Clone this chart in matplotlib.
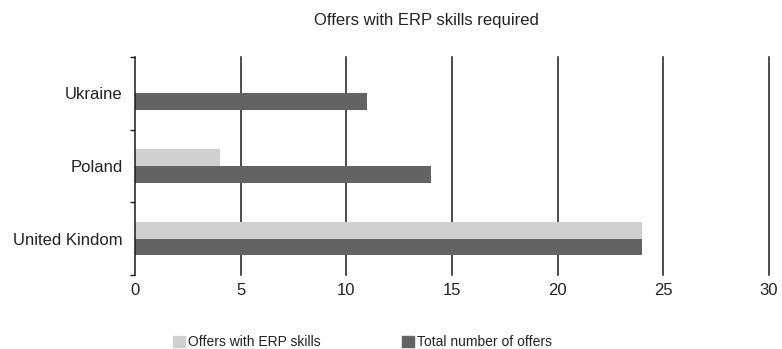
import matplotlib
matplotlib.use('Agg')
import matplotlib.pyplot as plt
from matplotlib.patches import Patch
import numpy as np

plt.rcParams['font.family'] = ['Liberation Sans', 'DejaVu Sans']

countries = ['United Kindom', 'Poland', 'Ukraine']
erp_offers = [24, 4, 0]
total_offers = [24, 14, 11]
xticks = [0, 5, 10, 15, 20, 25, 30]

light = '#d0d0d2'
dark = '#636363'
txt = '#222222'

fig = plt.figure(figsize=(7.82, 3.49), dpi=100)
ax = fig.add_axes([0.1726, 0.212, 0.8108, 0.6247])

y = np.arange(len(countries))
h = 0.23
ax.barh(y + h / 2, erp_offers, height=h, color=light, zorder=3)
ax.barh(y - h / 2, total_offers, height=h, color=dark, zorder=3)

ax.set_xlim(0, 30)
ax.set_ylim(-0.5, 2.5)

# vertical gridlines
for v in xticks[1:]:
    ax.axvline(v, color='#1a1a1a', lw=1.1, zorder=1, clip_on=False)

ax.set_xticks(xticks)
ax.set_xticklabels([str(v) for v in xticks])
ax.tick_params(axis='x', length=0, pad=6, labelsize=12, labelcolor=txt)

ax.set_yticks([-0.5, 0.5, 1.5, 2.5])
ax.set_yticklabels([])
ax.tick_params(axis='y', which='major', length=3.5, width=1, color='#1a1a1a', direction='out')
ax.set_yticks(y, minor=True)
ax.set_yticklabels(countries, minor=True)
ax.tick_params(axis='y', which='minor', length=0, pad=9, labelsize=12, labelcolor=txt)

for s in ['top', 'right', 'bottom']:
    ax.spines[s].set_visible(False)
ax.spines['left'].set_color('#1a1a1a')
ax.spines['left'].set_linewidth(1.1)
ax.spines['left'].set_zorder(4)

fig.text(426 / 782, 1 - 20 / 349, 'Offers with ERP skills required',
         ha='center', va='center', fontsize=12, color=txt)

handles = [Patch(color=light, label='Offers with ERP skills'),
           Patch(color=dark, label='Total number of offers')]
fig.legend(handles=handles, loc='center left', bbox_to_anchor=(173 / 782, 1 - 342 / 349),
           ncol=2, frameon=False, fontsize=10, borderpad=0, borderaxespad=0,
           handlelength=0.86, handleheight=0.86, handletextpad=0.2,
           columnspacing=5.9, labelcolor=txt)

fig.savefig('out.png', dpi=100)
